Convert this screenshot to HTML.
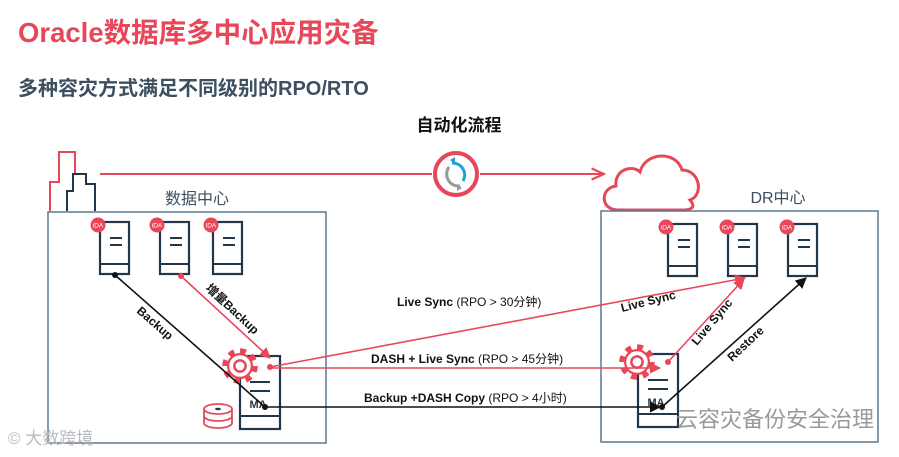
<!DOCTYPE html>
<html><head><meta charset="utf-8"><style>
body{margin:0;background:#fff;}
svg{display:block;font-family:"Liberation Sans","Noto Sans CJK SC",sans-serif;}
</style></head><body>
<svg width="899" height="457" viewBox="0 0 899 457" xmlns="http://www.w3.org/2000/svg">
<defs>
<marker id="ar" viewBox="0 0 10 10" refX="9" refY="5" markerWidth="7" markerHeight="7" orient="auto"><path d="M0,1 L9,5 L0,9" fill="none" stroke="#e8475a" stroke-width="1.6"/></marker>
<marker id="ab" viewBox="0 0 10 10" refX="9" refY="5" markerWidth="7" markerHeight="7" orient="auto"><path d="M0,0 L10,5 L0,10z" fill="#111"/></marker>
<marker id="arf" viewBox="0 0 10 10" refX="9" refY="5" markerWidth="7" markerHeight="7" orient="auto"><path d="M0,0 L10,5 L0,10z" fill="#e8475a"/></marker>
<g id="srv"><rect x="0" y="0" width="29" height="52" fill="#fff" stroke="#22384a" stroke-width="2.2"/><line x1="0" y1="42" x2="29" y2="42" stroke="#22384a" stroke-width="2"/><line x1="10" y1="16" x2="22" y2="16" stroke="#22384a" stroke-width="2"/><line x1="10" y1="23" x2="22" y2="23" stroke="#22384a" stroke-width="2"/></g>
<g id="ida"><circle cx="0" cy="0" r="7.5" fill="#e8475a"/><text x="0" y="2.5" font-size="6.5" fill="#fff" text-anchor="middle">iDA</text></g>
<g id="gear"><circle cx="0" cy="0" r="12" fill="none" stroke="#e8475a" stroke-width="4.5" stroke-dasharray="4.7 4.72"/><circle cx="0" cy="0" r="9.5" fill="#fff" stroke="#e8475a" stroke-width="1.8"/><circle cx="0" cy="0" r="4.5" fill="none" stroke="#e8475a" stroke-width="2"/></g>
</defs>

<text x="18" y="42" font-size="27.5" font-weight="bold" fill="#e8475a">Oracle数据库多中心应用灾备</text>
<text x="18" y="95" font-size="20" font-weight="bold" fill="#3d4f60">多种容灾方式满足不同级别的RPO/RTO</text>
<text x="459" y="131" font-size="17" font-weight="bold" fill="#111" text-anchor="middle">自动化流程</text>

<path d="M50,211 V182 H59 V152 H75 V174" fill="none" stroke="#e8475a" stroke-width="2"/>
<path d="M67,211 V191 H73 V174 H86 V184 H95 V211" fill="none" stroke="#22384a" stroke-width="2"/>

<line x1="100" y1="174" x2="432" y2="174" stroke="#e8475a" stroke-width="2"/>
<line x1="480" y1="174" x2="604" y2="174" stroke="#e8475a" stroke-width="2" marker-end="url(#ar)"/>
<circle cx="456" cy="174" r="21" fill="#fff" stroke="#e8475a" stroke-width="4"/>
<path d="M452,163 A12,12 0 0 1 463,181" fill="none" stroke="#1ea0d8" stroke-width="3"/>
<path d="M450,160 l5,-3 l0,7z" fill="#1ea0d8"/>
<path d="M460,186 A12,12 0 0 1 449,167" fill="none" stroke="#999" stroke-width="3"/>
<path d="M462,188 l-5,3 l0,-7z" fill="#999"/>

<path d="M618,210 C600,210 600,188 616,186 C614,170 632,164 640,172 C645,152 676,150 682,170 C700,170 704,195 690,200 C697,208 690,210 682,210 Z" fill="#fff" stroke="#e8475a" stroke-width="3"/>

<rect x="48" y="212" width="278" height="231" fill="none" stroke="#5a7890" stroke-width="1.5"/>
<rect x="601" y="211" width="277" height="231" fill="none" stroke="#5a7890" stroke-width="1.5"/>
<text x="197" y="204" font-size="16" fill="#3d4f60" text-anchor="middle">数据中心</text>
<text x="778" y="203" font-size="16" fill="#3d4f60" text-anchor="middle">DR中心</text>

<use href="#srv" x="100" y="222"/><use href="#srv" x="160" y="222"/><use href="#srv" x="213" y="222"/>
<use href="#ida" x="98" y="225"/><use href="#ida" x="157" y="225"/><use href="#ida" x="211" y="225"/>
<use href="#srv" x="668" y="224"/><use href="#srv" x="728" y="224"/><use href="#srv" x="788" y="224"/>
<use href="#ida" x="666" y="227"/><use href="#ida" x="727" y="227"/><use href="#ida" x="787" y="227"/>

<rect x="240" y="356" width="40" height="73" fill="#fff" stroke="#22384a" stroke-width="2.2"/>
<line x1="240" y1="416" x2="280" y2="416" stroke="#22384a" stroke-width="2"/>
<line x1="250" y1="382" x2="270" y2="382" stroke="#22384a" stroke-width="2"/>
<line x1="250" y1="391" x2="270" y2="391" stroke="#22384a" stroke-width="2"/>
<text x="258" y="408" font-size="11" font-weight="bold" fill="#22384a" text-anchor="middle">MA</text>
<use href="#gear" transform="translate(240,366) scale(1.25)"/>
<g fill="#fff" stroke="#e8475a" stroke-width="1.8"><path d="M204,409 v14 a14,5 0 0 0 28,0 v-14"/><ellipse cx="218" cy="409" rx="14" ry="5"/><path d="M204,416 a14,5 0 0 0 28,0"/></g>
<ellipse cx="218" cy="409" rx="3" ry="1.3" fill="#22384a"/>

<rect x="638" y="354" width="40" height="73" fill="#fff" stroke="#22384a" stroke-width="2.2"/>
<line x1="638" y1="414" x2="678" y2="414" stroke="#22384a" stroke-width="2"/>
<line x1="648" y1="380" x2="668" y2="380" stroke="#22384a" stroke-width="2"/>
<line x1="648" y1="389" x2="668" y2="389" stroke="#22384a" stroke-width="2"/>
<text x="656" y="406" font-size="11" font-weight="bold" fill="#22384a" text-anchor="middle">MA</text>
<use href="#gear" transform="translate(637,362) scale(1.25)"/>

<line x1="115" y1="275" x2="265" y2="407" stroke="#111" stroke-width="1.6"/>
<circle cx="115" cy="275" r="3" fill="#111"/><circle cx="265" cy="407" r="3" fill="#111"/>
<line x1="181" y1="276" x2="270" y2="358" stroke="#e8475a" stroke-width="1.6" marker-end="url(#arf)"/>
<circle cx="181" cy="276" r="3" fill="#e8475a"/>
<circle cx="270" cy="367" r="3" fill="#e8475a"/>
<line x1="270" y1="367" x2="745" y2="278" stroke="#e8475a" stroke-width="1.6" marker-end="url(#arf)"/>
<line x1="270" y1="368" x2="660" y2="368" stroke="#e8475a" stroke-width="1.6" marker-end="url(#arf)"/>
<line x1="265" y1="407" x2="660" y2="407" stroke="#111" stroke-width="1.6" marker-end="url(#ab)"/>
<circle cx="668" cy="362" r="3" fill="#e8475a"/>
<line x1="668" y1="362" x2="744" y2="279" stroke="#e8475a" stroke-width="1.6" marker-end="url(#arf)"/>
<circle cx="662" cy="407" r="3" fill="#111"/>
<line x1="662" y1="407" x2="806" y2="278" stroke="#111" stroke-width="1.6" marker-end="url(#ab)"/>

<text transform="translate(136,312) rotate(41)" font-size="12" font-weight="bold" fill="#111">Backup</text>
<text transform="translate(205,289) rotate(43)" font-size="12" font-weight="bold" fill="#111">增量Backup</text>
<text x="397" y="306" font-size="12" fill="#111"><tspan font-weight="bold">Live Sync</tspan> (RPO &gt; 30分钟)</text>
<text x="371" y="363" font-size="12" fill="#111"><tspan font-weight="bold">DASH + Live Sync</tspan> (RPO &gt; 45分钟)</text>
<text x="364" y="402" font-size="12" fill="#111"><tspan font-weight="bold">Backup +DASH Copy</tspan> (RPO &gt; 4小时)</text>
<text transform="translate(622,312) rotate(-14)" font-size="12" font-weight="bold" fill="#111">Live Sync</text>
<text transform="translate(697,346) rotate(-50)" font-size="12" font-weight="bold" fill="#111">Live Sync</text>
<text transform="translate(732,362) rotate(-43)" font-size="12" font-weight="bold" fill="#111">Restore</text>

<text x="8" y="444" font-size="17" fill="#bbb">© 大数跨境</text>
<text x="676" y="427" font-size="22" fill="#999">云容灾备份安全治理</text>
</svg>
</body></html>
